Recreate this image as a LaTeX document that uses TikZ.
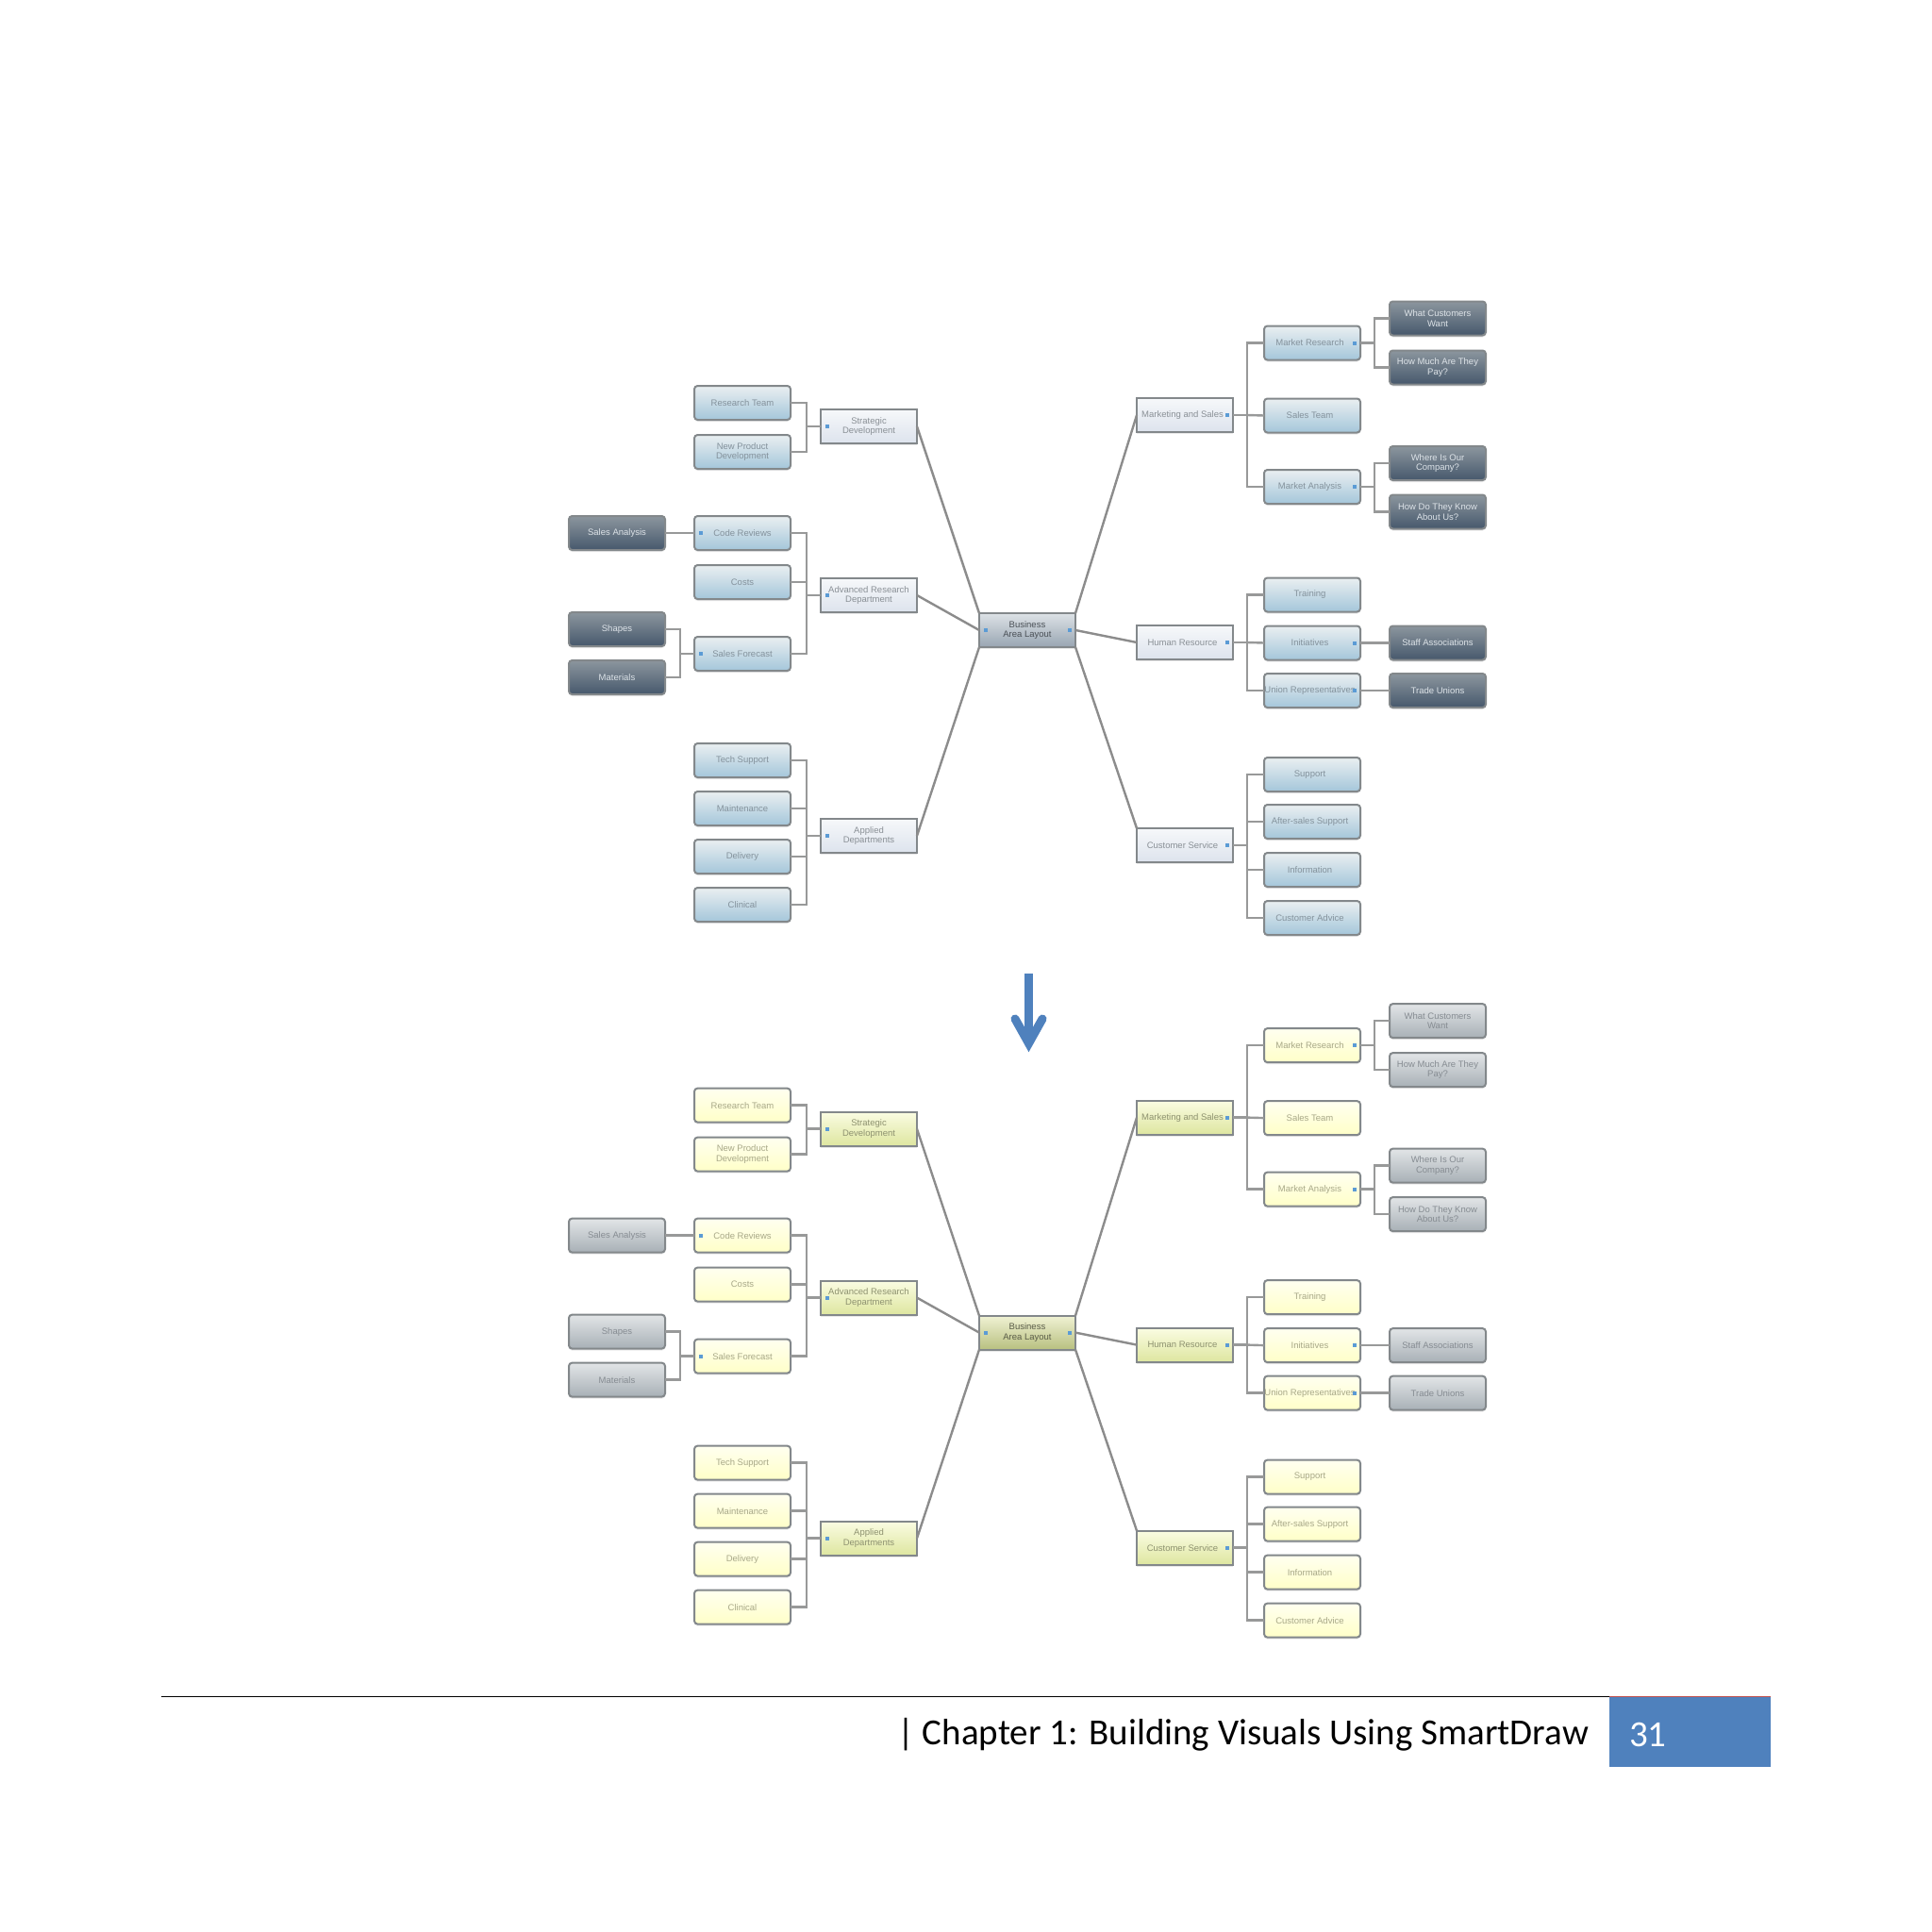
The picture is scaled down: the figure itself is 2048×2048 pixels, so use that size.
\documentclass[tikz,border=0pt]{standalone}
\usepackage{fontspec}
\setmainfont{Liberation Sans}
\newfontfamily\footfont{Carlito}
\usetikzlibrary{calc,shadows}
\definecolor{linegray}{HTML}{989999}
\definecolor{spokegray}{HTML}{8C8C8C}
\definecolor{edgegray}{HTML}{83888B}
\definecolor{markblue}{HTML}{5B9BD5}
\definecolor{arrowblue}{HTML}{4F81BD}
\definecolor{pageblue}{HTML}{4F81BD}
\definecolor{pagered}{HTML}{C0504D}
% upper map
\definecolor{rootTopA}{HTML}{DDE2E6}
\definecolor{rootBotA}{HTML}{98A5B2}
\definecolor{rootTxtA}{HTML}{4A5056}
\definecolor{hubTopA}{HTML}{F6F8FA}
\definecolor{hubBotA}{HTML}{DDE3ED}
\definecolor{hubTxtA}{HTML}{8A9096}
\definecolor{leafTopA}{HTML}{EAEFF1}
\definecolor{leafBotA}{HTML}{A4C6DA}
\definecolor{leafTxtA}{HTML}{84929C}
\definecolor{inkTopA}{HTML}{8C969E}
\definecolor{inkBotA}{HTML}{46586C}
\definecolor{inkTxtA}{HTML}{DDE3E8}
% lower map
\definecolor{rootTopB}{HTML}{F0F2D4}
\definecolor{rootBotB}{HTML}{B8C080}
\definecolor{rootTxtB}{HTML}{5A5C48}
\definecolor{hubTopB}{HTML}{FAFCE2}
\definecolor{hubBotB}{HTML}{DEE6A0}
\definecolor{hubTxtB}{HTML}{8E9270}
\definecolor{leafTopB}{HTML}{FFFFF0}
\definecolor{leafBotB}{HTML}{FFFFC8}
\definecolor{leafTxtB}{HTML}{A8A888}
\definecolor{inkTopB}{HTML}{E2E5E7}
\definecolor{inkBotB}{HTML}{A8B0B6}
\definecolor{inkTxtB}{HTML}{868C92}
\tikzset{
  every node/.append style={inner sep=0pt,outer sep=0pt,align=center},
  basebox/.style={minimum width=102pt,minimum height=36pt,line width=2pt,draw=edgegray,
    font=\fontsize{9.5}{10.5}\selectfont,
    drop shadow={shadow xshift=0pt,shadow yshift=-2pt,opacity=.15,fill=black!60}},
  treeline/.style={line width=2.4pt,draw=linegray},
  spoke/.style={line width=2.4pt,draw=spokegray},
  mk/.style={fill=markblue},
  inkarrow/.style={draw=arrowblue,line width=9pt},
}
\newcommand{\Rsp}{\hspace*{5pt}}
\newcommand{\MapTree}[1]{%
  % root
  \node[rootbox] (#1root) at (1089,668) {Business\\Area Layout};
  % left hubs
  \node[hubbox] (#1strat) at (921,452) {Strategic\\Development};
  \node[hubbox] (#1adv) at (921,631) {Advanced Research\\Department};
  \node[hubbox] (#1app) at (921,886) {Applied\\Departments};
  % left leaves
  \node[leafbox] (#1team) at (787,427) {Research Team};
  \node[leafbox] (#1newp) at (787,479) {New Product\\Development};
  \node[leafbox] (#1code) at (787,565) {Code Reviews};
  \node[leafbox] (#1cost) at (787,617) {Costs};
  \node[leafbox] (#1fore) at (787,693) {Sales Forecast};
  \node[leafbox] (#1tech) at (787,806) {Tech Support};
  \node[leafbox] (#1main) at (787,857) {Maintenance};
  \node[leafbox] (#1deli) at (787,908) {Delivery};
  \node[leafbox] (#1clin) at (787,959) {Clinical};
  % left outer
  \node[inkbox] (#1sale) at (654,565) {Sales Analysis};
  \node[inkbox] (#1shap) at (654,667) {Shapes};
  \node[inkbox] (#1mate) at (654,718) {Materials};
  % right hubs
  \node[hubbox] (#1mark) at (1256,440) {Marketing and Sales\Rsp};
  \node[hubbox] (#1hres) at (1256,681) {Human Resource\Rsp};
  \node[hubbox] (#1cust) at (1256,896) {Customer Service\Rsp};
  % right leaves
  \node[leafbox] (#1mres) at (1391,363.5) {Market Research\Rsp};
  \node[leafbox] (#1sals) at (1391,440.5) {Sales Team\Rsp};
  \node[leafbox] (#1mana) at (1391,516) {Market Analysis\Rsp};
  \node[leafbox] (#1trai) at (1391,630.5) {Training\Rsp};
  \node[leafbox] (#1init) at (1391,681.5) {Initiatives\Rsp};
  \node[leafbox] (#1unio) at (1391,732) {Union Representatives\Rsp};
  \node[leafbox] (#1supp) at (1391,821) {Support\Rsp};
  \node[leafbox] (#1afte) at (1391,871) {After-sales Support\Rsp};
  \node[leafbox] (#1info) at (1391,922) {Information\Rsp};
  \node[leafbox] (#1advi) at (1391,973) {Customer Advice\Rsp};
  % right outer
  \node[inkbox] (#1want) at (1524,337.5) {What Customers\\Want};
  \node[inkbox] (#1much) at (1524,389.5) {How Much Are They\\Pay?};
  \node[inkbox] (#1wher) at (1524,491) {Where Is Our\\Company?};
  \node[inkbox] (#1know) at (1524,542.5) {How Do They Know\\About Us?};
  \node[inkbox] (#1staf) at (1524,681.5) {Staff Associations};
  \node[inkbox] (#1trad) at (1524,732) {Trade Unions};
  % junctions
  \coordinate (#1ja) at (855,452);
  \coordinate (#1jb) at (855,631);
  \coordinate (#1jc) at (855,886);
  \coordinate (#1jd) at (721,693);
  \coordinate (#1je) at (1322,440);
  \coordinate (#1jf) at (1322,681);
  \coordinate (#1jg) at (1322,896);
  \coordinate (#1jh) at (1457,363.5);
  \coordinate (#1ji) at (1457,516);
  % spokes
  \draw[spoke] (#1strat.east) -- (#1root.north west);
  \draw[spoke] (#1adv.east) -- (#1root.west);
  \draw[spoke] (#1app.east) -- (#1root.south west);
  \draw[spoke] (#1root.north east) -- (#1mark.west);
  \draw[spoke] (#1root.east) -- (#1hres.west);
  \draw[spoke] (#1root.south east) -- (#1cust.north west);
  % left trees
  \draw[treeline] (#1ja) -- (#1strat.west);
  \draw[treeline] (#1team.east) -| (#1ja);
  \draw[treeline] (#1newp.east) -| (#1ja);
  \draw[treeline] (#1jb) -- (#1adv.west);
  \draw[treeline] (#1code.east) -| (#1jb);
  \draw[treeline] (#1cost.east) -| (#1jb);
  \draw[treeline] (#1fore.east) -| (#1jb);
  \draw[treeline] (#1jc) -- (#1app.west);
  \draw[treeline] (#1tech.east) -| (#1jc);
  \draw[treeline] (#1main.east) -| (#1jc);
  \draw[treeline] (#1deli.east) -| (#1jc);
  \draw[treeline] (#1clin.east) -| (#1jc);
  \draw[treeline] (#1sale.east) -- (#1code.west);
  \draw[treeline] (#1jd) -- (#1fore.west);
  \draw[treeline] (#1shap.east) -| (#1jd);
  \draw[treeline] (#1mate.east) -| (#1jd);
  % right trees
  \draw[treeline] (#1mark.east) -- (#1je);
  \draw[treeline] (#1je) |- (#1mres.west);
  \draw[treeline] (#1je) -- (#1sals.west);
  \draw[treeline] (#1je) |- (#1mana.west);
  \draw[treeline] (#1hres.east) -- (#1jf);
  \draw[treeline] (#1jf) |- (#1trai.west);
  \draw[treeline] (#1jf) -- (#1init.west);
  \draw[treeline] (#1jf) |- (#1unio.west);
  \draw[treeline] (#1cust.east) -- (#1jg);
  \draw[treeline] (#1jg) |- (#1supp.west);
  \draw[treeline] (#1jg) |- (#1afte.west);
  \draw[treeline] (#1jg) |- (#1info.west);
  \draw[treeline] (#1jg) |- (#1advi.west);
  \draw[treeline] (#1mres.east) -- (#1jh);
  \draw[treeline] (#1jh) |- (#1want.west);
  \draw[treeline] (#1jh) |- (#1much.west);
  \draw[treeline] (#1mana.east) -- (#1ji);
  \draw[treeline] (#1ji) |- (#1wher.west);
  \draw[treeline] (#1ji) |- (#1know.west);
  \draw[treeline] (#1init.east) -- (#1staf.west);
  \draw[treeline] (#1unio.east) -- (#1trad.west);
  % small markers, left side
  \foreach \n in {root,strat,adv,app,code,fore}
    \fill[mk] ([xshift=5pt,yshift=2pt]#1\n.west) rectangle +(4,4);
  % small markers, right side
  \foreach \n in {root,mark,hres,cust,mres,mana,init,unio}
    \fill[mk] ([xshift=-8pt,yshift=2pt]#1\n.east) rectangle +(4,4);
}
\begin{document}
\begin{tikzpicture}[x=1pt,y=-1pt]
\useasboundingbox (0,0) rectangle (2048,2048);
\fill[white] (0,0) rectangle (2048,2048);

% upper, blue map
\begin{scope}[
  rootbox/.style={basebox,top color=rootTopA,bottom color=rootBotA,text=rootTxtA},
  hubbox/.style={basebox,top color=hubTopA,bottom color=hubBotA,text=hubTxtA},
  leafbox/.style={basebox,rounded corners=3.5pt,top color=leafTopA,bottom color=leafBotA,text=leafTxtA},
  inkbox/.style={basebox,rounded corners=3.5pt,top color=inkTopA,bottom color=inkBotA,text=inkTxtA},
]
\MapTree{a}
\end{scope}

% arrow
\coordinate (arrtop) at (1090.5,1032);
\coordinate (arrtip) at (1090.5,1106);
\coordinate (arrleft) at (1076,1080);
\coordinate (arrright) at (1105,1080);
\draw[inkarrow] (arrtop) -- (arrtip);
\draw[inkarrow,line cap=round,miter limit=10] (arrleft) -- (arrtip) -- (arrright);

% lower, yellow map
\begin{scope}[shift={(0,744.6)},
  rootbox/.style={basebox,top color=rootTopB,bottom color=rootBotB,text=rootTxtB},
  hubbox/.style={basebox,top color=hubTopB,bottom color=hubBotB,text=hubTxtB},
  leafbox/.style={basebox,rounded corners=3.5pt,top color=leafTopB,bottom color=leafBotB,text=leafTxtB},
  inkbox/.style={basebox,rounded corners=3.5pt,top color=inkTopB,bottom color=inkBotB,text=inkTxtB},
]
\MapTree{b}
\end{scope}

% footer
\coordinate (rulestart) at (171,1798.5);
\coordinate (ruleend) at (1706,1798.5);
\node[minimum width=171pt,minimum height=74pt,fill=pageblue] (pagebox) at (1791.5,1835.5) {};
\draw[line width=1.8pt,black] (rulestart) -- (ruleend);
\draw[line width=1.8pt,pagered] (pagebox.north west) -- (pagebox.north east);
\node[anchor=west,font=\footfont\fontsize{39}{44}\selectfont,text=black] (chapter) at (951,1838.5) {| Chapter 1: Building Visuals Using SmartDraw};
\node[anchor=west,font=\footfont\fontsize{39}{44}\selectfont,text=white] (pagenum) at (1727,1838.5) {31};
\end{tikzpicture}
\end{document}
